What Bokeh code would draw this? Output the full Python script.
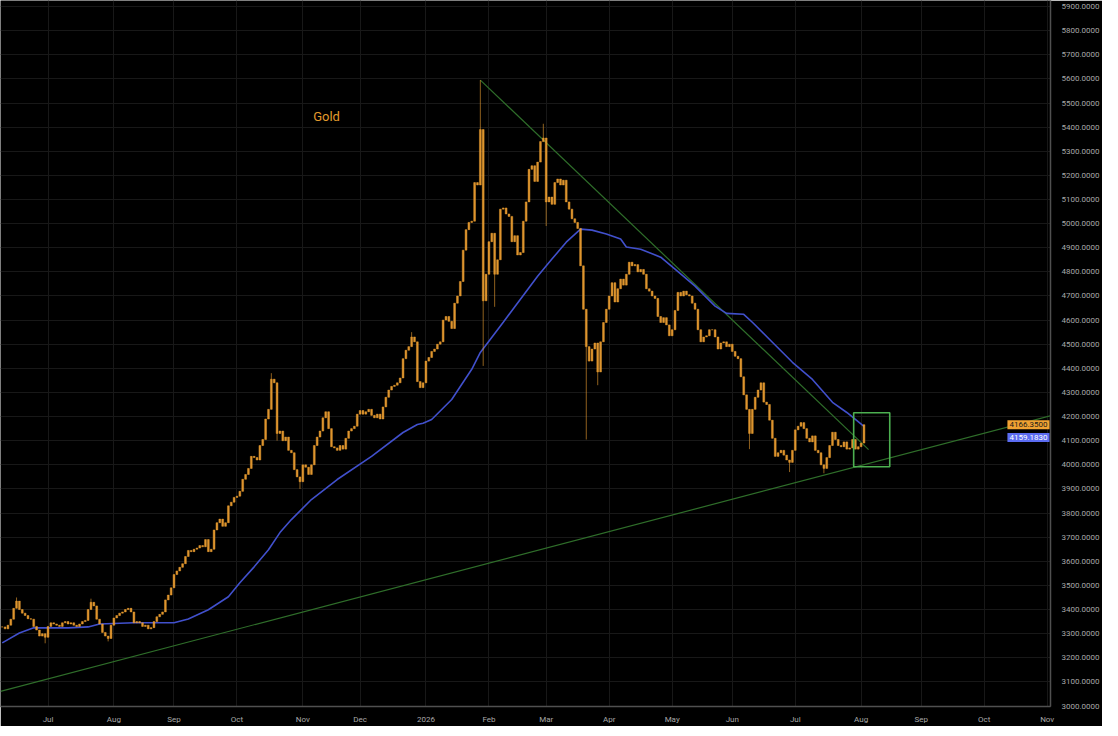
import pandas as pd
from bokeh.plotting import figure
from bokeh.models import (Range1d, FixedTicker, SingleIntervalTicker,
                          PrintfTickFormatter, Label, ColumnDataSource)
from bokeh.embed import file_html
from bokeh.resources import INLINE

# ---------------- data (daily closes) ----------------
close_2025_jun = [3328, 3320, 3335, 3360, 3405, 3435, 3400, 3385, 3375, 3362,
                  3360, 3330, 3315, 3290, 3300, 3285]
close_2025_jul = [3330, 3345, 3340, 3335, 3330, 3345, 3350, 3340, 3345, 3335,
                  3330, 3340, 3350, 3355, 3400, 3430, 3415, 3360, 3340, 3305,
                  3290, 3280, 3335]
close_2025_aug = [3365, 3375, 3385, 3390, 3400, 3405, 3390, 3345, 3350, 3345,
                  3330, 3335, 3320, 3325, 3350, 3370, 3380, 3390, 3440, 3460,
                  3490]
close_2025_sep = [3545, 3560, 3575, 3590, 3620, 3645, 3640, 3650, 3655, 3665,
                  3660, 3690, 3640, 3650, 3730, 3760, 3775, 3745, 3760, 3830,
                  3845, 3865]
close_2025_oct = [3870, 3890, 3940, 3960, 3985, 4035, 4030, 4020, 4080, 4105,
                  4190, 4230, 4355, 4340, 4130, 4140, 4100, 4115, 4060, 4050,
                  3980, 3950, 3930]
close_2025_nov = [4000, 3990, 3960, 4000, 4080, 4115, 4140, 4195, 4220, 4150,
                  4075, 4070, 4060, 4080, 4065, 4110, 4140, 4150, 4160, 4210]
close_2025_dec = [4225, 4210, 4220, 4230, 4205, 4195, 4210, 4190, 4240, 4280,
                  4310, 4325, 4330, 4340, 4360, 4440, 4475, 4490, 4530, 4510,
                  4345, 4320, 4340]
close_2026_jan = [4430, 4445, 4470, 4480, 4500, 4510, 4600, 4615, 4595, 4565,
                  4670, 4700, 4760, 4890, 4975, 5005, 5010, 5170, 5160, 5390,
                  4680, 4790]
close_2026_feb = [4925, 4960, 4790, 4850, 5060, 5065, 5040, 5030, 4925, 4950,
                  4870, 4880, 5010, 5090, 5225, 5240, 5175, 5255, 5340, 5355]
close_2026_mar = [5090, 5110, 5080, 5170, 5185, 5160, 5180, 5090, 5060, 5020,
                  5005, 4980, 4825, 4645, 4490, 4430, 4480, 4505, 4385, 4510,
                  4590, 4645]
close_2026_apr = [4700, 4755, 4675, 4730, 4770, 4745, 4790, 4840, 4825, 4830,
                  4800, 4810, 4790, 4730, 4720, 4700, 4690, 4615, 4590, 4610,
                  4580, 4535]
close_2026_may = [4560, 4640, 4715, 4700, 4720, 4705, 4700, 4670, 4645, 4560,
                  4510, 4530, 4535, 4560, 4560, 4530, 4480, 4505, 4510, 4490,
                  4500]
close_2026_jun = [4470, 4450, 4440, 4365, 4290, 4230, 4130, 4230, 4280, 4310,
                  4340, 4260, 4250, 4185, 4110, 4035, 4050, 4060, 4040, 4020,
                  4010, 4060]
close_2026_jul = [4145, 4160, 4175, 4150, 4110, 4095, 4120, 4060, 4050, 4000,
                  3985, 4030, 4080, 4135, 4105, 4080, 4075, 4095, 4065, 4070,
                  4105, 4065, 4075]
close_2026_aug = [4090, 4166.35]

first_session = "2025-06-09"
last_calendar_day = "2026-12-31"

# long wicks (bar number -> price)
high_spikes = {5: 3450, 31: 3445, 94: 4380, 143: 4550, 167: 5595, 189: 5414}
low_spikes = {15: 3260, 37: 3268, 96: 4100, 104: 3900, 168: 4410, 172: 4655,
              190: 4990, 204: 4105, 208: 4330, 261: 4065, 275: 3970, 287: 3965}

# blue moving average, read at bar numbers
ma_bar = [0, 6, 11, 23, 30, 34, 46, 60, 65, 72, 79, 83, 88, 93, 97, 101, 108,
          117, 129, 140, 145, 147, 150, 157, 164, 167, 175, 187, 192, 197, 202,
          206, 211, 216, 218, 223, 230, 235, 242, 249, 253, 259, 262, 269, 276,
          283, 290, 295, 301]
ma_value = [3262, 3303, 3324, 3324, 3328, 3340, 3345, 3345, 3361, 3399, 3453,
            3511, 3577, 3648, 3719, 3773, 3856, 3939, 4035, 4134, 4167, 4172,
            4188, 4271, 4396, 4466, 4591, 4782, 4853, 4923, 4977, 4973, 4957,
            4936, 4903, 4894, 4861, 4811, 4741, 4658, 4628, 4624, 4591, 4508,
            4425, 4354, 4259, 4217, 4159.183]

upper_trend_bar = [167, 302.6]
upper_trend_price = [5595, 4063]
lower_trend_bar = [-0.6, 376.6]
lower_trend_price = [3061, 4236]
box_bar = [297.4, 310.0]
box_price = [3992, 4216]
gold_label_bar = 108.6
gold_label_price = 5445
last_price = 4166.35
ma_last = 4159.183
last_price_text = "4166.3500"
ma_last_text = "4159.1830"
title_text = "Gold"

# ---------------- build ----------------
closes = (close_2025_jun + close_2025_jul + close_2025_aug + close_2025_sep +
          close_2025_oct + close_2025_nov + close_2025_dec + close_2026_jan +
          close_2026_feb + close_2026_mar + close_2026_apr + close_2026_may +
          close_2026_jun + close_2026_jul + close_2026_aug)
opens = [closes[0]] + closes[:-1]
bars = list(range(len(closes)))
tops = [max(o, c) for o, c in zip(opens, closes)]
bottoms = [min(o, c) for o, c in zip(opens, closes)]
highs = [high_spikes.get(i, t) for i, t in enumerate(tops)]
lows = [low_spikes.get(i, b) for i, b in enumerate(bottoms)]

src = ColumnDataSource(dict(x=bars, top=tops, bottom=bottoms, high=highs, low=lows))

# month ticks on the session axis
sessions = pd.bdate_range(first_session, last_calendar_day)
tick_pos, tick_lab = [], []
seen = set()
for i, d in enumerate(sessions):
    key = (d.year, d.month)
    if key in seen:
        continue
    seen.add(key)
    if d.day > 3:
        continue
    tick_pos.append(i)
    tick_lab.append(str(d.year) if d.month == 1 else d.strftime("%b"))

FRAME_W, FRAME_H = 1050, 706
PX_PER_BAR = 2.863
x0 = -0.6
x1 = x0 + FRAME_W / PX_PER_BAR
ytop = 5925
ybot = 2998

ORANGE = "#eea032"
BG = "#000000"
GRID = "#181818"
AXIS = "#505050"
LABEL = "#a8a8a8"
FONT = "Roboto"

p = figure(frame_width=FRAME_W, frame_height=FRAME_H,
           x_range=Range1d(x0, x1), y_range=Range1d(ybot, ytop),
           y_axis_location="right", output_backend="svg",
           toolbar_location=None, background_fill_color=BG,
           border_fill_color=BG, outline_line_color=None,
           min_border_left=0, min_border_top=0, min_border_right=0,
           min_border_bottom=14)

# axes
xt = FixedTicker(ticks=tick_pos)
p.xaxis.ticker = xt
p.xaxis.major_label_overrides = {t: l for t, l in zip(tick_pos, tick_lab)}
yt = SingleIntervalTicker(interval=100, num_minor_ticks=0)
p.yaxis.ticker = yt
p.yaxis.formatter = PrintfTickFormatter(format="%.4f")
for ax in (p.xaxis, p.yaxis):
    ax.axis_line_color = AXIS
    ax.axis_line_width = 1.5
    ax.major_tick_line_color = None
    ax.minor_tick_line_color = None
    ax.major_label_text_color = LABEL
    ax.major_label_text_font = FONT
    ax.major_label_text_font_size = "8px"
p.xaxis.major_label_standoff = 2
p.yaxis.major_label_standoff = 5
p.xgrid.ticker = xt
p.ygrid.ticker = yt
p.xgrid.grid_line_color = GRID
p.ygrid.grid_line_color = GRID

# trend lines
p.line(lower_trend_bar, lower_trend_price, line_color="#2f6e2a", line_width=1.2)
p.line(upper_trend_bar, upper_trend_price, line_color="#2f6e2a", line_width=1.2)

# moving average
p.line(ma_bar, ma_value, line_color="#4150cc", line_width=1.6)

# candles
p.segment(x0="x", y0="high", x1="x", y1="low", source=src,
          line_color=ORANGE, line_width=1, line_alpha=0.6)
p.vbar(x="x", width=0.65, top="top", bottom="bottom", source=src,
       fill_color=ORANGE, line_color=ORANGE, line_width=0.5, fill_alpha=0.85,
       line_alpha=0.85)

# highlight box
p.quad(left=[box_bar[0]], right=[box_bar[1]], bottom=[box_price[0]],
       top=[box_price[1]], fill_color=None, line_color="#4caf50", line_width=1.6)

# title text
p.add_layout(Label(x=gold_label_bar, y=gold_label_price, text=title_text,
                   text_color="#e39b2d", text_font=FONT, text_font_size="13px",
                   text_baseline="alphabetic"))

# price tags at the price scale
p.add_layout(Label(x=x1, y=last_price, x_offset=-1, text=last_price_text,
                   text_color="#1a1a1a", text_font=FONT, text_font_size="8px",
                   text_align="right", text_baseline="middle",
                   background_fill_color="#f0a232", padding=2))
p.add_layout(Label(x=x1, y=ma_last, x_offset=-1, y_offset=-11,
                   text=ma_last_text, text_color="#ffffff", text_font=FONT,
                   text_font_size="8px", text_align="right",
                   text_baseline="middle", background_fill_color="#5b6cf2",
                   padding=2))

open("out.html", "w").write(file_html(p, INLINE))
